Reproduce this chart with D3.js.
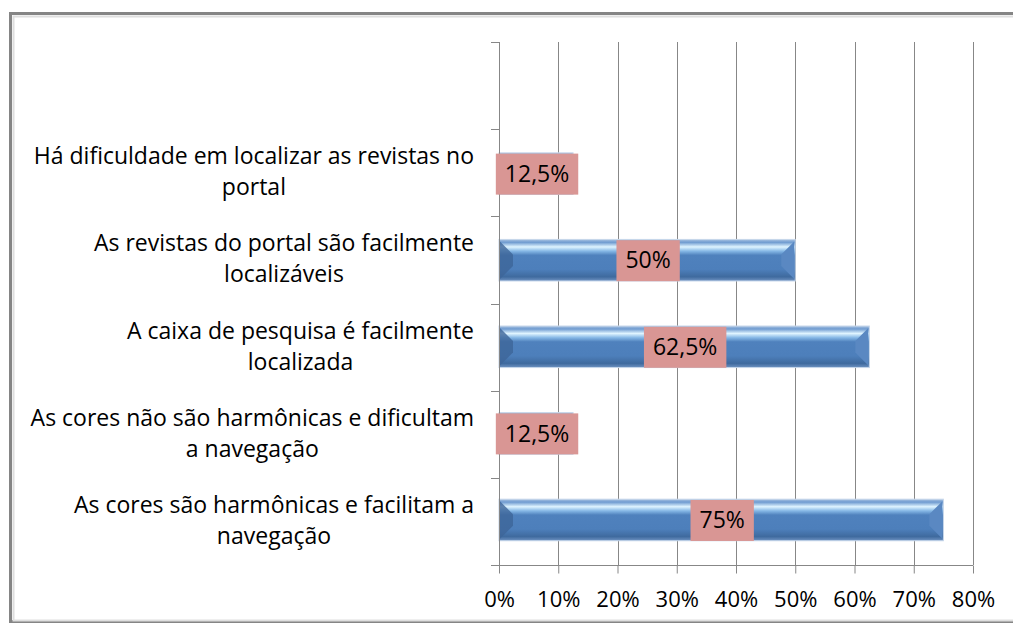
<!DOCTYPE html>
<html>
<head>
<meta charset="utf-8">
<script src="https://cdn.jsdelivr.net/npm/d3@7"></script>
<style>
  body { margin: 0; background: #fff; }
  svg { display: block; font-family: "Open Sans", Lato, sans-serif; }
</style>
</head>
<body>
<svg id="chart" width="1013" height="627"></svg>
<script>
// categories, top to bottom (the first one is an empty slot)
var categories = [
  "",
  "Há dificuldade em localizar as revistas no|portal",
  "As revistas do portal são facilmente|localizáveis",
  "A caixa de pesquisa é facilmente|localizada",
  "As cores não são harmônicas e dificultam|a navegação",
  "As cores são harmônicas e facilitam a|navegação"
];
var values = [null, 12.5, 50, 62.5, 12.5, 75];
var valueLabels = ["", "12,5%", "50%", "62,5%", "12,5%", "75%"];
var tickValues = [0, 10, 20, 30, 40, 50, 60, 70, 80];

var svg = d3.select('#chart');
var plotL = 499, plotR = 973, plotT = 42, plotB = 565;

// frame
svg.append('rect').attr('x', 10.5).attr('y', 13.5).attr('width', 1010).attr('height', 608)
  .attr('fill', 'none').attr('stroke', '#858585').attr('stroke-width', 3);
svg.append('rect').attr('x', 13.5).attr('y', 16.5).attr('width', 1010).attr('height', 604)
  .attr('fill', 'none').attr('stroke', '#dedede').attr('stroke-width', 2);

var x = d3.scaleLinear().domain([0, 80]).range([plotL, plotR]);
var y = d3.scaleBand().domain(d3.range(categories.length)).range([plotT, plotB]).paddingInner(0.52).paddingOuter(0.28);
var yAll = d3.scaleBand().domain(d3.range(categories.length)).range([plotT, plotB]);

var defs = svg.append('defs');
var grad = defs.append('linearGradient').attr('id', 'barGrad').attr('x1', 0).attr('y1', 0).attr('x2', 0).attr('y2', 1);
[[0, '#a9c3e2'], [0.07, '#6f9bd0'], [0.18, '#dff4ff'], [0.28, '#86b8e6'], [0.38, '#4f81bd'],
 [0.72, '#4d7fbb'], [0.9, '#3f6a9e'], [1, '#6f93c2']].forEach(function(s) {
  grad.append('stop').attr('offset', s[0]).attr('stop-color', s[1]);
});

// gridlines
svg.append('g').selectAll('line').data(tickValues).enter().append('line')
  .attr('x1', function(d){ return Math.round(x(d)) + 0.5; })
  .attr('x2', function(d){ return Math.round(x(d)) + 0.5; })
  .attr('y1', plotT).attr('y2', plotB)
  .attr('stroke', '#878787').attr('stroke-width', 1);

// bars
var barData = values.map(function(v, i){ return {v: v, i: i}; })
  .filter(function(d){ return d.v !== null; });
var bars = svg.append('g').selectAll('g').data(barData).enter().append('g');

bars.append('rect')
  .attr('x', x(0)).attr('y', function(d){ return y(d.i); })
  .attr('width', function(d){ return x(d.v) - x(0); })
  .attr('height', y.bandwidth())
  .attr('fill', 'url(#barGrad)')
  .attr('stroke', '#c6d6ea').attr('stroke-width', 1);

// bevels on the ends
var bev = 13;
bars.append('path')
  .attr('d', function(d){
    var x0 = x(0) + 1, y0 = y(d.i) + 2, h = y.bandwidth() - 4;
    var b = Math.min(bev, (x(d.v) - x(0)) / 2);
    return 'M' + x0 + ',' + y0 + 'L' + (x0 + b) + ',' + (y0 + b) + 'L' + (x0 + b) + ',' + (y0 + h - b) + 'L' + x0 + ',' + (y0 + h) + 'Z';
  })
  .attr('fill', '#3d6598').attr('opacity', 0.8);
bars.append('path')
  .attr('d', function(d){
    var x1 = x(d.v) - 1, y0 = y(d.i) + 2, h = y.bandwidth() - 4;
    var b = Math.min(bev, (x(d.v) - x(0)) / 2);
    return 'M' + x1 + ',' + y0 + 'L' + (x1 - b) + ',' + (y0 + b) + 'L' + (x1 - b) + ',' + (y0 + h - b) + 'L' + x1 + ',' + (y0 + h) + 'Z';
  })
  .attr('fill', '#5a88c2');

// axes
var xAxis = svg.append('g').attr('transform', 'translate(0,' + (plotB + 0.5) + ')')
  .call(d3.axisBottom(x).tickValues(tickValues).tickSize(8).tickPadding(18).tickFormat(function(d){ return d + '%'; }));
xAxis.select('.domain').attr('stroke', '#878787').attr('d', 'M' + (plotL - 8) + ',0H' + plotR);
xAxis.selectAll('.tick line').attr('stroke', '#878787');
xAxis.selectAll('text').attr('font-size', 22).attr('fill', '#000').attr('font-family', '"Open Sans", sans-serif');

var yTicks = d3.range(categories.length + 1).map(function(i){ return plotT + i * yAll.step(); });
svg.append('g').selectAll('line').data(yTicks).enter().append('line')
  .attr('x1', plotL - 8).attr('x2', plotL)
  .attr('y1', function(d){ return Math.round(d) + 0.5; }).attr('y2', function(d){ return Math.round(d) + 0.5; })
  .attr('stroke', '#878787');
svg.append('line').attr('x1', plotL + 0.5).attr('x2', plotL + 0.5).attr('y1', plotT).attr('y2', plotB)
  .attr('stroke', '#878787');

// category labels: block right aligned, lines centred inside it
var labelRight = 474, lineH = 31;
categories.forEach(function(c, i) {
  if (!c) return;
  var lines = c.split('|');
  var g = svg.append('g');
  var cy = yAll(i) + yAll.bandwidth() / 2;
  var texts = lines.map(function(l, k) {
    return g.append('text').text(l)
      .attr('font-size', 23).attr('fill', '#000')
      .attr('y', cy + (k - (lines.length - 1) / 2) * lineH + 7);
  });
  var wMax = d3.max(texts, function(t){ return t.node().getComputedTextLength(); });
  texts.forEach(function(t){
    t.attr('x', labelRight - wMax / 2).attr('text-anchor', 'middle');
  });
});

// value labels
var lab = svg.append('g').selectAll('g').data(barData).enter().append('g')
  .attr('transform', function(d){
    return 'translate(' + (x(d.v / 2) + 1) + ',' + (y(d.i) + y.bandwidth() / 2) + ')';
  });
lab.append('text').text(function(d){ return valueLabels[d.i]; })
  .attr('text-anchor', 'middle').attr('dy', '0.36em')
  .attr('font-size', 23).attr('fill', '#000');
lab.insert('rect', 'text').each(function(){
  var t = d3.select(this.parentNode).select('text').node().getComputedTextLength();
  d3.select(this).attr('x', -t / 2 - 9).attr('width', t + 18).attr('y', -20).attr('height', 41);
}).attr('fill', '#d99694');
</script>
</body>
</html>
